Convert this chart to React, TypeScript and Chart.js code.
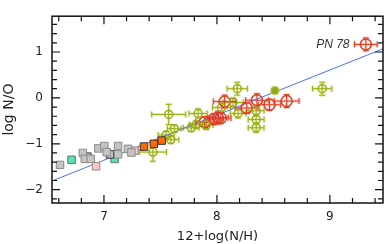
import React, { useEffect, useRef } from "react";
import { Chart, registerables } from "chart.js";
Chart.register(...registerables);

const FONT = "'DejaVu Sans', sans-serif";

// Axis ranges and tick labels
const xRange = [6.54, 9.47];
const yRange = [-2.29, 1.78];
const xTickLabels = ["7", "8", "9"];
const yTickLabels = ["−2", "−1", "0", "1"];

// Linear fit line endpoints
const fitX = [6.54, 9.47];
const fitY = [-1.81, 1.07];

// Gray squares
const grayX = [6.611, 6.813, 6.83, 6.883, 6.95, 7.003, 7.024, 7.125, 7.125, 7.213, 7.243];
const grayY = [-1.46, -1.2, -1.33, -1.33, -1.1, -1.05, -1.18, -1.05, -1.23, -1.11, -1.19];
const grayDarkX = [6.853, 7.053];
const grayDarkY = [-1.28, -1.23];
// Teal squares
const tealX = [6.713, 7.094];
const tealY = [-1.35, -1.33];
// Pink squares
const pinkX = [6.93, 7.27];
const pinkY = [-1.49, -1.15];
// Orange squares
const orangeX = [7.354, 7.441, 7.511];
const orangeY = [-1.06, -1.0, -0.93];

// Green open circles with errors
const greenX = [7.433, 7.573, 7.55, 7.592, 7.623, 7.772, 7.816, 7.833, 7.906, 8.04, 8.143, 8.18, 8.187, 8.347, 8.347, 8.347, 8.932];
const greenY = [-1.18, -0.36, -0.81, -0.91, -0.67, -0.65, -0.58, -0.34, -0.59, -0.21, -0.1, 0.2, -0.34, -0.28, -0.47, -0.65, 0.2];
const greenEx = [0.12, 0.15, 0.07, 0.07, 0.06, 0.07, 0.06, 0.08, 0.06, 0.08, 0.09, 0.09, 0.07, 0.07, 0.07, 0.07, 0.085];
const greenEy = [0.2, 0.22, 0.08, 0.08, 0.08, 0.08, 0.08, 0.1, 0.1, 0.1, 0.1, 0.14, 0.1, 0.1, 0.1, 0.1, 0.14];
// Green filled circle
const greenFilledX = [8.513];
const greenFilledY = [0.16];

// Red open circles with errors
const redX = [9.318, 8.068, 8.354, 8.263, 8.465, 8.617, 7.892, 7.974, 8.009, 8.035];
const redY = [1.166, -0.08, -0.05, -0.22, -0.15, -0.07, -0.53, -0.46, -0.43, -0.44];
const redEx = [0.1, 0.1, 0.1, 0.1, 0.1, 0.11, 0.08, 0.08, 0.09, 0.09];
const redEy = [0.14, 0.14, 0.14, 0.12, 0.12, 0.14, 0.12, 0.12, 0.14, 0.12];

const annotationText = "PN 78";
const annotationIndex = 0;

const pts = (xs: number[], ys: number[]) => xs.map((x, i) => ({ x, y: ys[i] }));

const errorBarPlugin = {
  id: "errorBars",
  beforeDatasetsDraw(chart: any) {
    const { ctx, chartArea, scales } = chart;
    const xs = scales.x, ys = scales.y;
    ctx.save();
    ctx.beginPath();
    ctx.rect(chartArea.left, chartArea.top, chartArea.right - chartArea.left, chartArea.bottom - chartArea.top);
    ctx.clip();
    chart.data.datasets.forEach((ds: any) => {
      if (!ds.errX) return;
      ds.data.forEach((p: any, j: number) => {
        const cx = xs.getPixelForValue(p.x);
        const cy = ys.getPixelForValue(p.y);
        const x0 = xs.getPixelForValue(p.x - ds.errX[j]);
        const x1 = xs.getPixelForValue(p.x + ds.errX[j]);
        const y0 = ys.getPixelForValue(p.y - ds.errY[j]);
        const y1 = ys.getPixelForValue(p.y + ds.errY[j]);
        const cap = 3;
        const draw = () => {
          ctx.beginPath();
          ctx.moveTo(x0, cy); ctx.lineTo(x1, cy);
          ctx.moveTo(cx, y0); ctx.lineTo(cx, y1);
          ctx.moveTo(x0, cy - cap); ctx.lineTo(x0, cy + cap);
          ctx.moveTo(x1, cy - cap); ctx.lineTo(x1, cy + cap);
          ctx.moveTo(cx - cap, y0); ctx.lineTo(cx + cap, y0);
          ctx.moveTo(cx - cap, y1); ctx.lineTo(cx + cap, y1);
          ctx.stroke();
        };
        ctx.strokeStyle = ds.errHalo;
        ctx.lineWidth = 3;
        draw();
        ctx.strokeStyle = ds.errColor;
        ctx.lineWidth = 1;
        draw();
      });
    });
    ctx.restore();
  },
};

const framePlugin = {
  id: "frameTicks",
  afterDraw(chart: any) {
    const { ctx, chartArea, scales } = chart;
    const { left, right, top, bottom } = chartArea;
    const xs = scales.x, ys = scales.y;
    ctx.save();
    ctx.strokeStyle = "#111";
    ctx.lineWidth = 1.5;
    ctx.strokeRect(left, top, right - left, bottom - top);
    ctx.lineWidth = 1.2;
    ctx.beginPath();
    for (let k = Math.ceil(xs.min / 0.2 - 1e-6); k * 0.2 <= xs.max + 1e-6; k++) {
      const px = xs.getPixelForValue(k * 0.2);
      const len = k % 5 === 0 ? 8 : 5;
      ctx.moveTo(px, bottom); ctx.lineTo(px, bottom - len);
      ctx.moveTo(px, top); ctx.lineTo(px, top + len);
    }
    for (let k = Math.ceil(ys.min / 0.2 - 1e-6); k * 0.2 <= ys.max + 1e-6; k++) {
      const py = ys.getPixelForValue(k * 0.2);
      const len = k % 5 === 0 ? 8 : 5;
      ctx.moveTo(left, py); ctx.lineTo(left + len, py);
      ctx.moveTo(right, py); ctx.lineTo(right - len, py);
    }
    ctx.stroke();

    // annotation label
    const ax = xs.getPixelForValue(redX[annotationIndex] - redEx[annotationIndex]) - 5;
    const ay = ys.getPixelForValue(redY[annotationIndex]);
    ctx.font = "italic 12px 'Liberation Sans', Arial, sans-serif";
    ctx.fillStyle = "#333";
    ctx.textAlign = "right";
    ctx.textBaseline = "middle";
    ctx.fillText(annotationText, ax, ay);
    ctx.restore();
  },
};

export default function App() {
  const ref = useRef<HTMLCanvasElement>(null);
  useEffect(() => {
    document.body.style.margin = "0";
    const chart = new Chart(ref.current as HTMLCanvasElement, {
      type: "scatter",
      data: {
        datasets: [
          {
            type: "line",
            data: pts(fitX, fitY),
            borderColor: "#4a72f0",
            borderWidth: 1,
            pointRadius: 0,
            showLine: true,
            order: 10,
          } as any,
          {
            data: pts(grayX, grayY),
            pointStyle: "rect",
            pointRadius: 5.3,
            backgroundColor: "#c4c4c4",
            borderColor: "#8a8a8a",
            borderWidth: 1,
          },
          {
            data: pts(grayDarkX, grayDarkY),
            pointStyle: "rect",
            pointRadius: 5.3,
            backgroundColor: "#c4c4c4",
            borderColor: "#333",
            borderWidth: 1,
          },
          {
            data: pts(tealX, tealY),
            pointStyle: "rect",
            pointRadius: 5.3,
            backgroundColor: "#5ee0bc",
            borderColor: "#557a70",
            borderWidth: 1,
          },
          {
            data: pts(pinkX, pinkY),
            pointStyle: "rect",
            pointRadius: 5.3,
            backgroundColor: "#f7c6c6",
            borderColor: "#a08080",
            borderWidth: 1,
          },
          {
            data: pts(orangeX, orangeY),
            pointStyle: "rect",
            pointRadius: 5.3,
            backgroundColor: "#ff6a00",
            borderColor: "#333",
            borderWidth: 1,
          },
          {
            data: pts(greenX, greenY),
            errX: greenEx,
            errY: greenEy,
            errColor: "#9bae12",
            errHalo: "rgba(180,200,70,0.35)",
            pointStyle: "circle",
            pointRadius: 4,
            backgroundColor: "rgba(0,0,0,0)",
            borderColor: "#9bae12",
            borderWidth: 1.5,
          } as any,
          {
            data: pts(greenFilledX, greenFilledY),
            pointStyle: "circle",
            pointRadius: 4,
            backgroundColor: "#93a916",
            borderColor: "rgba(170,195,60,0.7)",
            borderWidth: 1.5,
          },
          {
            data: pts(redX, redY),
            errX: redEx,
            errY: redEy,
            errColor: "#e03a1a",
            errHalo: "rgba(240,120,120,0.35)",
            pointStyle: "circle",
            pointRadius: 5.5,
            backgroundColor: "rgba(0,0,0,0)",
            borderColor: "#e03a1a",
            borderWidth: 1.5,
          } as any,
        ],
      },
      options: {
        responsive: false,
        animation: false,
        devicePixelRatio: 1,
        events: [],
        layout: { padding: { top: 2, right: 4, left: 0, bottom: 0 } },
        plugins: { legend: { display: false }, tooltip: { enabled: false } },
        scales: {
          x: {
            type: "linear",
            position: "bottom",
            min: xRange[0],
            max: xRange[1],
            grid: { display: false, drawTicks: false },
            border: { display: false },
            afterBuildTicks: (s: any) => {
              s.ticks = xTickLabels.map((t) => ({ value: Number(t) }));
            },
            ticks: {
              includeBounds: false,
              padding: 7,
              color: "#222",
              font: { family: FONT, size: 12 },
              maxRotation: 0,
              callback: (v: any) => String(v),
            },
            title: {
              display: true,
              text: "12+log(N/H)",
              color: "#222",
              font: { family: FONT, size: 13 },
              padding: { top: 0, bottom: 0 },
            },
            afterFit: (s: any) => {
              s.height = 41;
            },
          },
          y: {
            type: "linear",
            position: "left",
            min: yRange[0],
            max: yRange[1],
            grid: { display: false, drawTicks: false },
            border: { display: false },
            afterBuildTicks: (s: any) => {
              s.ticks = yTickLabels.map((t) => ({ value: Number(t.replace("−", "-")) }));
            },
            ticks: {
              includeBounds: false,
              padding: 9,
              color: "#222",
              font: { family: FONT, size: 12 },
              callback: (v: any) => (v < 0 ? "−" + Math.abs(v) : String(v)),
            },
            title: {
              display: true,
              text: "log N/O",
              color: "#222",
              font: { family: FONT, size: 14 },
              padding: { top: 1, bottom: 0 },
            },
            afterFit: (s: any) => {
              s.width = 52;
            },
          },
        },
      } as any,
      plugins: [errorBarPlugin, framePlugin],
    });
    return () => chart.destroy();
  }, []);
  return (
    <div style={{ width: 390, height: 244 }}>
      <canvas ref={ref} width={390} height={244} style={{ display: "block" }} />
    </div>
  );
}
